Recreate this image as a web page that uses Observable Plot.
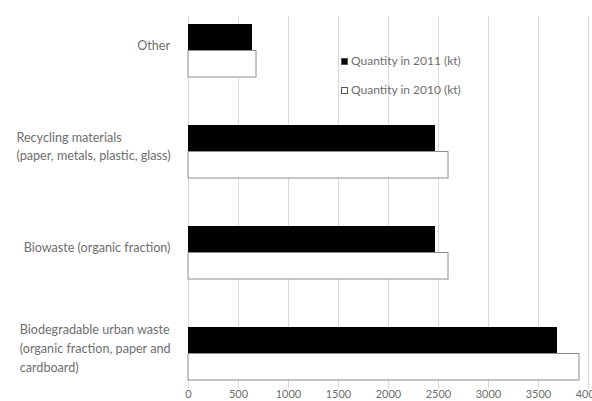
<!DOCTYPE html>
<html>
<head>
<meta charset="utf-8">
<script src="https://cdn.jsdelivr.net/npm/d3@7"></script>
<script src="https://cdn.jsdelivr.net/npm/@observablehq/plot@0.6"></script>
<style>
  body { margin: 0; background: #fff; }
  #chart { position: relative; width: 592px; height: 401px; font-family: Lato, sans-serif; }
  .legend { position: absolute; left: 341px; font-size: 12px; color: #6e6e6e; display: flex; align-items: center; gap: 3px; white-space: nowrap; line-height: 14px; }
  .sw { width: 7px; height: 7px; box-sizing: border-box; border: 1px solid #555; }
</style>
</head>
<body>
<div id="chart"></div>
<script>
// Waste categories, top to bottom
const categories = [
  "Other",
  "Recycling materials\n(paper, metals, plastic, glass)",
  "Biowaste (organic fraction)",
  "Biodegradable urban waste\n(organic fraction, paper and\ncardboard)"
];
// Quantities in kilotonnes
const qty2011 = [640, 2470, 2470, 3690];
const qty2010 = [680, 2600, 2600, 3910];
const xTicks = [0, 500, 1000, 1500, 2000, 2500, 3000, 3500, 4000];
const seriesLabels = ["Quantity in 2011 (kt)", "Quantity in 2010 (kt)"];
const seriesFill = ["#000000", "#ffffff"];

const rows = categories.map((c, i) => ({category: c, q2011: qty2011[i], q2010: qty2010[i]}));

const yOptions = {
  type: "band",
  domain: categories,
  range: [0, 404],
  paddingInner: 0.475,
  paddingOuter: 0.2375
};
// each category band holds two bars, one per year
const half = Plot.scale({y: yOptions}).bandwidth / 2;

const svg = Plot.plot({
  width: 592,
  height: 401,
  marginLeft: 188,
  marginRight: 4,
  marginTop: 16,
  marginBottom: 13,
  style: {fontFamily: "Lato, sans-serif", fontSize: "11px", color: "#6e6e6e", background: "white"},
  x: {domain: [0, 4000]},
  y: {...yOptions, axis: null},
  marks: [
    Plot.ruleX(xTicks, {stroke: "#d9d9d9", strokeWidth: 1}),
    Plot.barX(rows, {y: "category", x: "q2011", fill: seriesFill[0], insetBottom: half}),
    Plot.barX(rows, {y: "category", x: "q2010", fill: seriesFill[1], stroke: "#8c8c8c", strokeWidth: 1, insetTop: half}),
    Plot.axisX({ticks: xTicks, tickSize: 0, tickPadding: 2, tickFormat: "d", fill: "#6e6e6e"}),
    Plot.text(rows, {
      y: "category", text: "category",
      frameAnchor: "left", textAnchor: "start",
      dx: -174, dy: -7, lineHeight: 1.5,
      fontSize: 12.6, fill: "#6e6e6e"
    })
  ]
});

const chart = document.getElementById("chart");
chart.append(svg);

// category labels: lines left-aligned, each block right-aligned against the axis
svg.querySelectorAll('g[aria-label="text"] text').forEach(t => {
  const w = t.getBBox().width;
  const shift = Math.max(-12, 170 - (14 + w));
  t.setAttribute("transform", (t.getAttribute("transform") || "") + ` translate(${shift},0)`);
});

// legend
seriesLabels.forEach((label, i) => {
  const item = document.createElement("div");
  item.className = "legend";
  item.style.top = (54 + i * 29) + "px";
  const sw = document.createElement("div");
  sw.className = "sw";
  sw.style.background = seriesFill[i];
  const tx = document.createElement("span");
  tx.textContent = label;
  item.append(sw, tx);
  chart.append(item);
});
</script>
</body>
</html>
